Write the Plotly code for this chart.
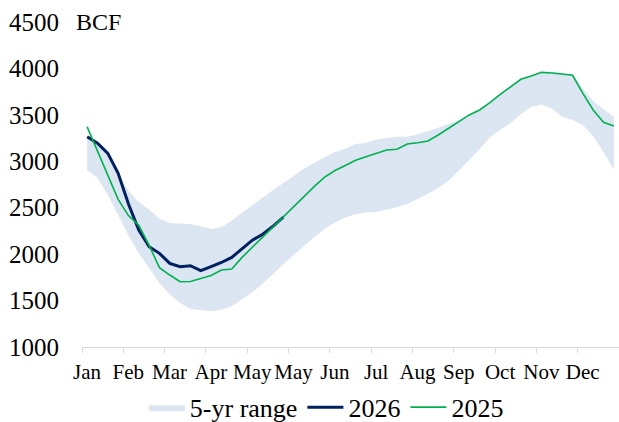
import plotly.graph_objects as go

weeks = list(range(52))
month_labels = ["Jan", "Feb", "Mar", "Apr", "May", "May", "Jun", "Jul",
                "Aug", "Sep", "Oct", "Nov", "Dec"]

range_upper = [3265, 3200, 3060, 2850, 2680, 2560, 2480, 2380, 2335, 2330,
               2325, 2300, 2270, 2290, 2360, 2445, 2530, 2605, 2690, 2765,
               2840, 2920, 2985, 3045, 3100, 3135, 3185, 3200, 3235, 3250,
               3265, 3265, 3290, 3325, 3360, 3405, 3440, 3500, 3555, 3631,
               3721, 3803, 3883, 3925, 3965, 3965, 3955, 3940, 3780, 3650,
               3560, 3480]
range_lower = [2906, 2820, 2640, 2420, 2200, 2010, 1850, 1690, 1565, 1475,
               1410, 1400, 1385, 1405, 1440, 1515, 1590, 1680, 1790, 1890,
               1990, 2090, 2185, 2270, 2340, 2395, 2430, 2450, 2450, 2480,
               2505, 2540, 2595, 2650, 2715, 2790, 2900, 3010, 3130, 3260,
               3340, 3410, 3510, 3585, 3612, 3565, 3480, 3445, 3390, 3270,
               3100, 2906]
y2026 = [3265, 3194, 3086, 2871, 2540, 2260, 2080, 2009, 1901, 1865,
         1876, 1822, 1865, 1910, 1965, 2055, 2150, 2215, 2300, 2400]
y2025 = [3370, 3111, 2852, 2590, 2415, 2310, 2095, 1854, 1775, 1703,
         1705, 1738, 1770, 1830, 1840, 1965, 2075, 2185, 2300, 2410,
         2515, 2630, 2730, 2830, 2900, 2955, 3010, 3050, 3086, 3122,
         3129, 3186, 3200, 3219, 3283, 3355, 3427, 3499, 3553, 3631,
         3721, 3803, 3883, 3919, 3958, 3951, 3940, 3926, 3732, 3553,
         3420, 3380]

FONT = "Liberation Serif, Times New Roman, serif"
BAND = "#dce6f2"
NAVY = "#002060"
GREEN = "#00b050"

fig = go.Figure()
fig.add_trace(go.Scatter(x=weeks, y=range_lower, mode="lines",
                         line=dict(width=0, color=BAND), showlegend=False,
                         hoverinfo="skip"))
fig.add_trace(go.Scatter(x=weeks, y=range_upper, mode="lines", fill="tonexty",
                         fillcolor=BAND, line=dict(width=0, color=BAND),
                         name="5-yr range"))
fig.add_trace(go.Scatter(x=weeks[:len(y2026)], y=y2026, mode="lines",
                         line=dict(color=NAVY, width=3), name="2026"))
fig.add_trace(go.Scatter(x=weeks, y=y2025, mode="lines",
                         line=dict(color=GREEN, width=1.6), name="2025"))

tick_pos = [w - 0.5 for w in range(0, 53, 4)]
fig.update_layout(
    width=619, height=422,
    margin=dict(l=82, r=0, t=22, b=75, autoexpand=False),
    paper_bgcolor="white", plot_bgcolor="white",
    font=dict(family=FONT, size=25, color="black"),
    showlegend=True,
    legend=dict(orientation="h", x=0.455, xanchor="center",
                yref="container", y=0.035, yanchor="middle",
                font=dict(size=26), itemwidth=36, traceorder="normal"),
    xaxis=dict(range=[-0.5, 51.5], tickmode="array", tickvals=tick_pos,
               ticktext=month_labels + [""], ticks="outside", ticklen=5,
               tickcolor="#d9d9d9", showline=True, linecolor="#d9d9d9",
               linewidth=1, showgrid=False, zeroline=False,
               ticklabelshift=5, ticklabelstandoff=1, automargin=False,
               tickfont=dict(size=21)),
    yaxis=dict(range=[1000, 4500], tickmode="array",
               tickvals=[1000, 1500, 2000, 2500, 3000, 3500, 4000, 4500],
               showgrid=False, zeroline=False, showline=False, ticks="",
               ticklabelstandoff=22, automargin=False,
               tickfont=dict(size=25)),
    annotations=[dict(text="BCF", xref="paper", yref="y", x=-0.014, y=4500,
                      xanchor="left", yanchor="middle", showarrow=False,
                      font=dict(size=24))],
)
fig.write_html("out.html", config={"displayModeBar": False},
               post_script="document.body.style.margin='0';"
                           "document.body.style.padding='0';")
